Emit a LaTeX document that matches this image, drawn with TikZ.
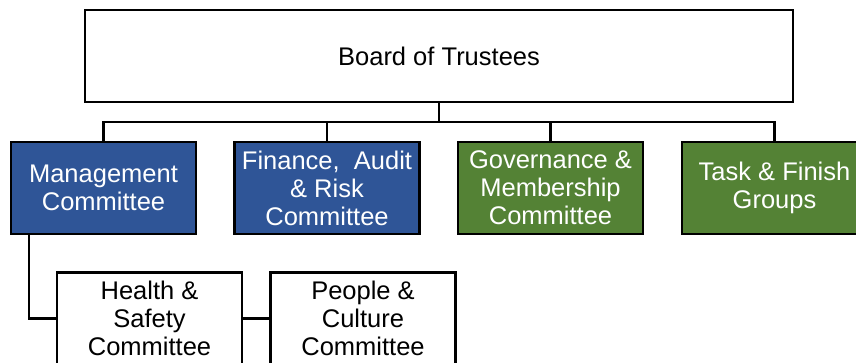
\documentclass[tikz,border=0pt]{standalone}
\usepackage{fontspec}
\setmainfont{Liberation Sans}
\definecolor{boardblue}{HTML}{2F5597}
\definecolor{boardgreen}{HTML}{548235}
\tikzset{
  orgbox/.style={draw=black, line width=2.7pt, minimum width=185pt, minimum height=92pt,
    align=center, inner sep=0pt, font=\fontsize{25.5}{28}\selectfont},
  bluebox/.style={orgbox, fill=boardblue, text=white},
  greenbox/.style={orgbox, fill=boardgreen, text=white},
  whitebox/.style={orgbox, fill=white, text=black},
  link/.style={draw=black, line width=2.7pt}
}
\begin{document}
\begin{tikzpicture}[x=1pt, y=-1pt]
\useasboundingbox (0,0) rectangle (856,362);
\clip (0,0) rectangle (856,362);
\fill[white] (0,0) rectangle (856,362);
\coordinate (bus) at (0,122);
\node[whitebox, minimum width=708pt] (board) at (439,56) {Board of Trustees};
\node[bluebox] (mgmt) at (103.5,188) {Management\\Committee};
\node[bluebox] (fin) at (327,188) {Finance,~ Audit\\\& Risk\\Committee};
\node[greenbox] (gov) at (550.5,188) {Governance \&\\Membership\\Committee};
\node[greenbox] (task) at (774.5,188) {Task \& Finish\\Groups};
\node[whitebox] (health) at (149.5,318.5) {Health \&\\Safety\\Committee};
\node[whitebox] (people) at (363,318.5) {People \&\\Culture\\Committee};
\draw[link] (board.south) -- (board.south |- bus);
\draw[link] (mgmt.north) -- (mgmt.north |- bus) -- (task.north |- bus) -- (task.north);
\draw[link] (fin.north) -- (fin.north |- bus);
\draw[link] (gov.north) -- (gov.north |- bus);
\draw[link] ([xshift=-74.5pt]mgmt.south) |- (health.west);
\draw[link] (health.east) -- (people.west);
\end{tikzpicture}
\end{document}
